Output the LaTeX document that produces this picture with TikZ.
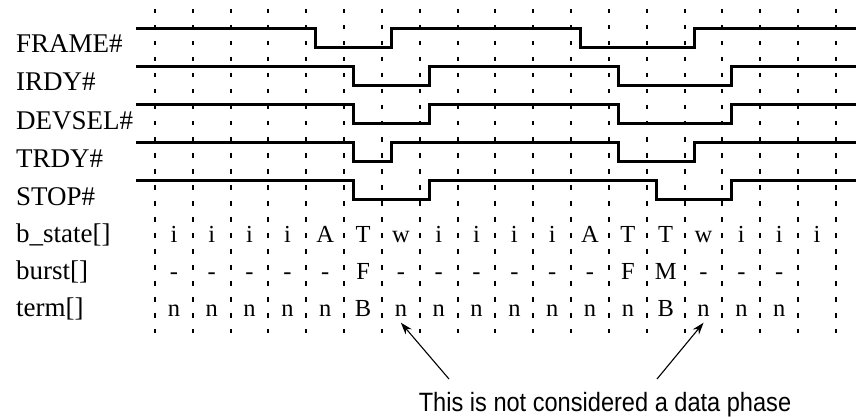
\documentclass[tikz,border=0pt]{standalone}
\usepackage{fontspec}
\setmainfont{Liberation Serif}
\newfontfamily\notefont[FakeStretch=0.89]{Liberation Sans}
\usetikzlibrary{arrows.meta,positioning}

\begin{document}
\begin{tikzpicture}[
    x=1pt, y=-1pt,
    declare function={tx(\k)=155+37.83*\k;},
    every node/.style={inner sep=2pt},
    siglabel/.style={anchor=base west, font=\fontsize{27}{31}\selectfont},
    cell/.style={anchor=base, font=\fontsize{24.5}{29}\selectfont},
    signal/.style={line width=3pt, line join=miter},
    tick/.style={line width=2pt, dash pattern=on 4.5pt off 11.5pt},
    note/.style={anchor=base, font=\notefont\fontsize{26.5}{30}\selectfont},
    arrow/.style={-{Stealth[length=12pt,width=8pt]}, line width=1.1pt}
]
\useasboundingbox (0,0) rectangle (856,417);

% Clock ticks
\foreach \k in {0,...,18}
    \draw[tick] ({tx(\k)},9) -- ({tx(\k)},333);

% Signal names
\node[siglabel] (frame) at (14,53) {FRAME\#};
\node[siglabel] (irdy) at (14,91) {IRDY\#};
\node[siglabel] (devsel) at (14,129) {DEVSEL\#};
\node[siglabel] (trdy) at (14,167) {TRDY\#};
\node[siglabel] (stop) at (14,205) {STOP\#};
\node[siglabel] (bstate) at (14,242) {b\_state[]};
\node[siglabel] (burst) at (14,279) {burst[]};
\node[siglabel] (term) at (14,316) {term[]};

% Waveforms: high level / falls / rises / falls / rises
\foreach \hi/\a/\b/\c/\d in {28.5/4.25/6.25/11.25/14.25, 66.4/5.25/7.25/12.25/15.25,
        104.3/5.25/7.25/12.25/15.25, 142.2/5.25/6.25/12.25/14.25, 180.1/5.25/7.25/13.25/15.25}
    \draw[signal] (136,\hi) -| ({tx(\a)},\hi+19) -| ({tx(\b)},\hi)
        -| ({tx(\c)},\hi+19) -| ({tx(\d)},\hi) -- (856,\hi);

% State rows
\foreach \v [count=\k from 0] in {i,i,i,i,A,T,w,i,i,i,i,A,T,T,w,i,i,i}
    \node[cell] (s\k) at ({tx(\k+0.5)},242) {\v};
\foreach \v [count=\k from 0] in {-,-,-,-,-,F,-,-,-,-,-,-,F,M,-,-,-}
    \node[cell] (b\k) at ({tx(\k+0.5)},279) {\v};
\foreach \v [count=\k from 0] in {n,n,n,n,n,B,n,n,n,n,n,n,n,B,n,n,n}
    \node[cell] (t\k) at ({tx(\k+0.5)},316) {\v};

% Annotation
\node[note] (note) at (605,411) {This is not considered a data phase};
\coordinate (lfoot) at (449,379);
\coordinate (rfoot) at (657,379);
\draw[arrow] (lfoot) -- ([yshift=-4.5pt]t6.south);
\draw[arrow] (rfoot) -- ([yshift=-4.5pt]t14.south);

\end{tikzpicture}
\end{document}
